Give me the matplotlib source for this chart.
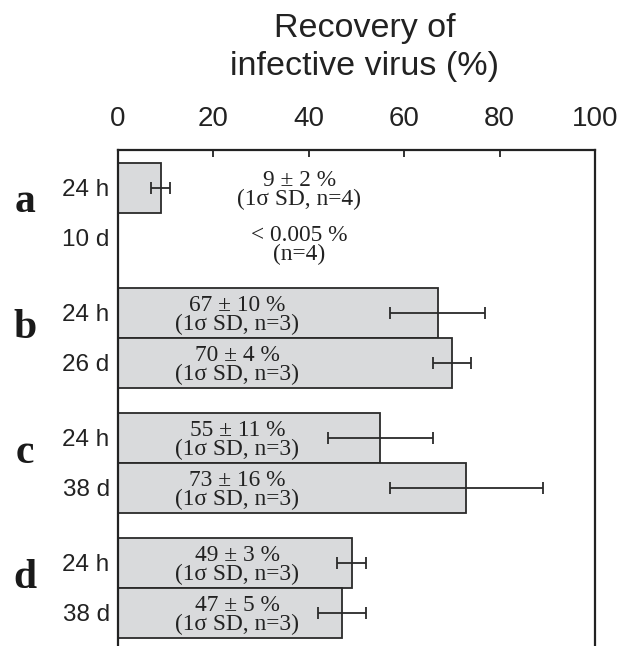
import numpy as np
import matplotlib
matplotlib.use('Agg')
import matplotlib.pyplot as plt
from matplotlib import transforms

# ── data ────────────────────────────────────────────────────────────────────
groups = ['a', 'b', 'c', 'd']
time_labels = ['24 h', '10 d', '24 h', '26 d', '24 h', '38 d', '24 h', '38 d']
recovery = [9, None, 67, 70, 55, 73, 49, 47]   # % infective virus recovered
sd = [2, None, 10, 4, 11, 16, 3, 5]
notes = ['9 ± 2 %\n(1σ SD, n=4)', '< 0.005 %\n(n=4)',
         '67 ± 10 %\n(1σ SD, n=3)', '70 ± 4 %\n(1σ SD, n=3)',
         '55 ± 11 %\n(1σ SD, n=3)', '73 ± 16 %\n(1σ SD, n=3)',
         '49 ± 3 %\n(1σ SD, n=3)', '47 ± 5 %\n(1σ SD, n=3)']

SANS = ['Liberation Sans', 'DejaVu Sans']
SERIF = ['Liberation Serif', 'DejaVu Serif']

W, H = 633, 646
fig = plt.figure(figsize=(W / 100, H / 100), dpi=100)
ax = fig.add_axes([118 / W, 0.0, (595 - 118) / W, (H - 150) / H])

# two bars per group, half a bar of space between groups
ypos = [0.75 + 2.5 * (i // 2) + (i % 2) for i in range(len(time_labels))]

for y, v, e in zip(ypos, recovery, sd):
    if v is None:
        continue
    ax.barh(y, v, height=1.0, color='#d9dadc', edgecolor='#2a2a2a',
            linewidth=1.3, zorder=2)
    ax.errorbar(v, y, xerr=e, fmt='none', ecolor='#2a2a2a', elinewidth=1.3,
                capsize=4, capthick=1.3, zorder=3)

for i, (y, txt) in enumerate(zip(ypos, notes)):
    x = 38 if i < 2 else 25
    dy = 0.15 if recovery[i] is None else 0.05
    ax.text(x, y + dy, txt, ha='center', va='center', family=SERIF,
            fontsize=16.8, linespacing=0.82, color='#222222', zorder=4)

blend = transforms.blended_transform_factory(ax.transAxes, ax.transData)
for g, name in enumerate(groups):
    ax.text(-0.195, ypos[2 * g] + 0.5, name, transform=blend, ha='center',
            va='baseline', family=SERIF, fontweight='bold', fontsize=30,
            color='#1a1a1a')

ax.set_xlim(0, 100)
ax.set_ylim((H - 150) / 50, 0)
ax.set_xticks([0, 20, 40, 60, 80, 100])
ax.set_yticks(ypos)
ax.set_yticklabels(time_labels, family=SANS, fontsize=17.5)
ax.xaxis.tick_top()
ax.tick_params(axis='x', direction='in', length=5, width=1.3, pad=13,
               labelsize=20, colors='#222222')
ax.tick_params(axis='y', length=0, pad=6, colors='#222222')
for lab in ax.get_xticklabels():
    lab.set_family(SANS)

for side in ['left', 'right', 'top']:
    ax.spines[side].set_linewidth(1.6)
    ax.spines[side].set_color('#222222')
ax.spines['bottom'].set_visible(False)

fig.text(365 / W, 1 - 13 / H, 'Recovery of\ninfective virus (%)', ha='center',
         va='top', family=SANS, fontsize=24.5, linespacing=1.3, color='#222222')

fig.savefig('out.png', dpi=100)
